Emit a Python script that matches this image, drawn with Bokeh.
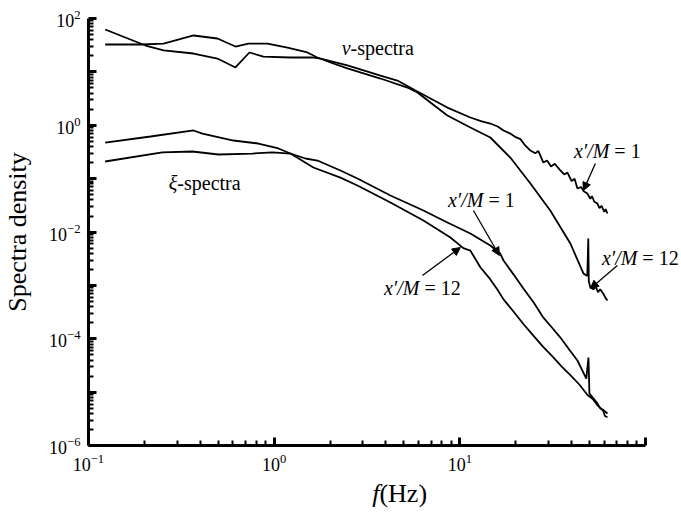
from bokeh.plotting import figure
from bokeh.models import Range1d, FixedTicker, Label, Arrow, NormalHead
from bokeh.embed import file_html
from bokeh.resources import INLINE

# v-spectra, x'/M = 1
v1_f = [0.123, 0.203, 0.254, 0.368, 0.495, 0.619, 0.736, 0.876, 1.22, 1.63, 1.78,
        2.48, 3.74, 4.61, 5.91, 8.57, 11.4, 13.0, 14.6, 16.0, 17.2, 18.7, 20.0, 21.2,
        22.5, 24.0, 25.5, 26.5, 28.2, 29.5, 31.0, 32.5, 34.8, 36.5, 38.0, 40.0, 41.5,
        43.0, 45.0, 46.5, 48.6, 50.5, 51.5, 53.0, 55.1, 56.5, 58.0, 60.0, 61.0, 62.4]
v1_s = [62.2, 31.2, 25.2, 22.1, 17.8, 12.1, 23.1, 19.4, 18.6, 18.6, 17.8,
        13.2, 8.56, 6.90, 4.30, 2.15, 1.40, 1.20, 1.08, 0.95, 0.80, 0.70, 0.60, 0.55,
        0.42, 0.337, 0.30, 0.33, 0.201, 0.22, 0.17, 0.19, 0.1425, 0.12, 0.13, 0.09, 0.10,
        0.0656, 0.07, 0.058, 0.0528, 0.042, 0.047, 0.037, 0.0343, 0.028, 0.031, 0.024, 0.027, 0.0223]

# v-spectra, x'/M = 12
v12_f = [0.123, 0.1905, 0.254, 0.368, 0.495, 0.619, 0.727, 0.92, 1.18, 1.51, 1.71,
         2.01, 2.48, 3.74, 5.22, 5.91, 8.57, 11.4, 14.6, 18.7, 24.0, 30.7, 39.4, 46.3,
         48.6, 49.2, 49.5, 50.5, 52.4, 54.0, 55.5, 57.0, 59.3, 61.0, 62.4]
v12_s = [32.6, 32.6, 34.0, 48.1, 42.2, 29.9, 34.0, 34.0, 28.6, 23.1, 18.6,
         15.0, 11.6, 7.52, 5.10, 4.11, 1.53, 0.91, 0.591, 0.249, 0.0813, 0.0254, 0.00612, 0.00168,
         0.0015, 0.0076, 0.0012, 0.000918, 0.00085, 0.00095, 0.00075, 0.00085, 0.0007, 0.00058, 0.000524]

# xi-spectra, x'/M = 12
x12_f = [0.123, 0.216, 0.368, 0.411, 0.604, 0.823, 1.055, 1.224, 1.627, 2.275, 2.81,
         4.23, 6.37, 8.90, 10.45, 11.4, 12.9, 14.6, 15.9, 17.2, 19.4, 22.0, 24.9, 28.2,
         31.9, 35.5, 39.4, 44.0, 48.6, 52.0, 55.1, 58.5, 62.4]
x12_s = [0.476, 0.617, 0.80, 0.70, 0.519, 0.456, 0.368, 0.296, 0.162, 0.105, 0.0746,
         0.0358, 0.0165, 0.00793, 0.0050, 0.0045, 0.0022, 0.0013, 0.00085, 0.00055, 0.00033,
         0.00019, 0.000115, 7.0e-5, 4.5e-5, 3.0e-5, 2.1e-5, 1.4e-5, 9.0e-6, 7.5e-6, 5.7e-6,
         4.8e-6, 4.0e-6]

# xi-spectra, x'/M = 1
x1_f = [0.123, 0.25, 0.363, 0.501, 0.764, 0.98, 1.224, 1.475, 1.711, 2.275, 2.81,
        4.23, 6.37, 8.57, 11.4, 14.6, 16.5, 17.2, 19.5, 22.0, 25.0, 28.2, 31.5, 34.8,
        39.0, 43.0, 48.0, 49.3, 49.9, 52.0, 55.1, 57.0, 59.0, 60.5, 62.4]
x1_s = [0.210, 0.310, 0.323, 0.284, 0.296, 0.310, 0.296, 0.239, 0.219, 0.1425, 0.101,
        0.0484, 0.0254, 0.0151, 0.00942, 0.00561, 0.00397, 0.00294, 0.0016, 0.00088,
        0.00048, 0.00025, 0.00016, 0.000106, 6.2e-5, 3.94e-5, 1.81e-5, 4.49e-5, 9.5e-6,
        8.0e-6, 6.2e-6, 5.0e-6, 4.6e-6, 3.6e-6, 3.4e-6]

x_decades = [0.1, 1.0, 10.0, 100.0]
y_decades = [1e-6, 1e-5, 1e-4, 1e-3, 1e-2, 1e-1, 1.0, 10.0, 100.0]

SERIF = "Liberation Serif"
NB = "\u00a0"

# The frame fills the whole canvas so that every text fits inside it; the
# axes are pinned at f = 0.1 Hz and S = 1e-6 and bounded to the plotted decades.
p = figure(width=681, height=515, x_axis_type="log", y_axis_type="log",
           x_range=Range1d(0.0336, 156.3), y_range=Range1d(4.93e-8, 217.4),
           output_backend="svg", toolbar_location=None,
           min_border_left=0, min_border_right=0, min_border_top=0,
           min_border_bottom=0)
p.outline_line_color = None
p.grid.visible = False
p.background_fill_color = "white"

x_minor = [m * d for d in x_decades[:-1] for m in range(2, 10)]
y_minor = [m * d for d in y_decades[:-1] for m in range(2, 10)]
p.xaxis.ticker = FixedTicker(ticks=x_decades, minor_ticks=x_minor)
p.yaxis.ticker = FixedTicker(ticks=y_decades, minor_ticks=y_minor)
p.xaxis.bounds = (0.1, 100)
p.yaxis.bounds = (1e-6, 100)
p.xaxis.fixed_location = 1e-6
p.yaxis.fixed_location = 0.1
p.xaxis.major_label_overrides = {100.0: ""}
p.yaxis.major_label_overrides = {1e-5: "", 1e-3: "", 1e-1: "", 10.0: ""}

for ax in (p.xaxis, p.yaxis):
    ax.axis_line_width = 3
    ax.axis_line_color = "black"
    ax.major_tick_in = 8
    ax.major_tick_out = 0
    ax.major_tick_line_width = 3
    ax.minor_tick_in = 5
    ax.minor_tick_out = 0
    ax.minor_tick_line_width = 2
    ax.major_label_text_font = SERIF
    ax.major_label_text_font_size = "18px"
    ax.major_label_text_color = "black"
    ax.major_label_standoff = 8

p.yaxis.axis_label = "Spectra density"
p.yaxis.axis_label_text_font = SERIF
p.yaxis.axis_label_text_font_size = "26px"
p.yaxis.axis_label_text_font_style = "normal"
p.yaxis.axis_label_text_color = "black"
p.yaxis.axis_label_standoff = 14

for f, s in ((v1_f, v1_s), (v12_f, v12_s), (x12_f, x12_s), (x1_f, x1_s)):
    p.line(f, s, line_color="black", line_width=1.8)


def two_part(x, y, left, right, size="20px", left_style="italic"):
    p.add_layout(Label(x=x, y=y, text=left, text_align="right", text_baseline="middle",
                       text_font=SERIF, text_font_size=size, text_font_style=left_style,
                       text_color="black"))
    p.add_layout(Label(x=x, y=y, text=right, text_align="left", text_baseline="middle",
                       text_font=SERIF, text_font_size=size, text_color="black"))


two_part(2.58, 28.6, "v", "-spectra")
two_part(0.301, 0.0849, "ξ", "-spectra")
two_part(63.9, 0.337, "x′/M", NB + "=" + NB + "1")
two_part(90.4, 0.00334, "x′/M", NB + "=" + NB + "12")
two_part(13.4, 0.0391, "x′/M", NB + "=" + NB + "1")
two_part(6.06, 0.000879, "x′/M", NB + "=" + NB + "12")

# x-axis title under the axis
two_part(3.69, 1.27e-7, "f", "(Hz)", size="26px")

arrows = [
    (53.7, 0.193, 46.3, 0.0601),
    (70.6, 0.00237, 50.5, 0.000879),
    (11.84, 0.0254, 16.34, 0.00365),
    (6.29, 0.00154, 10.07, 0.00515),
]
for xs, ys, xe, ye in arrows:
    p.add_layout(Arrow(end=NormalHead(size=8, fill_color="black", line_color="black"),
                       x_start=xs, y_start=ys, x_end=xe, y_end=ye,
                       line_color="black", line_width=1.3))

open("out.html", "w").write(file_html(p, INLINE))
